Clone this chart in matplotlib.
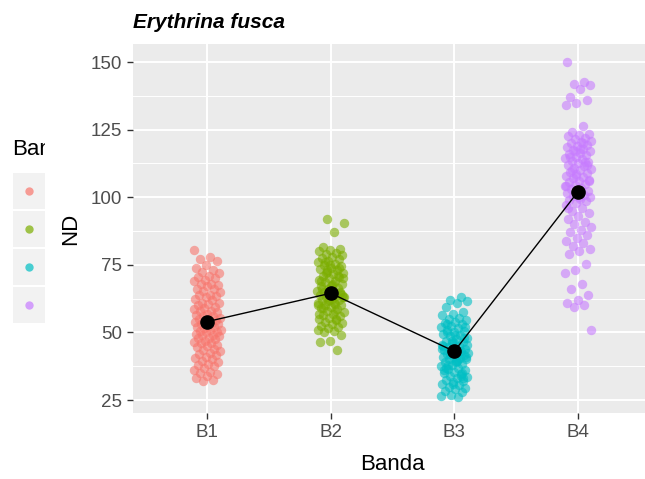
import numpy as np
import matplotlib
matplotlib.use("Agg")
import matplotlib.pyplot as plt
from matplotlib.patches import Rectangle
from matplotlib.transforms import Bbox

plt.rcParams['font.family'] = ['Liberation Sans', 'DejaVu Sans']

bandas = ["B1", "B2", "B3", "B4"]
colores = ["#F8766D", "#7CAE00", "#00BFC4", "#C77CFF"]

nd_b1 = [80.5, 78, 77, 76.5, 75, 74, 73, 72.5, 72, 71, 70.5, 70, 69.5, 69, 68, 68,
         67.5, 67, 66, 66, 65.5, 65, 64, 64, 63.5, 63, 62.5, 62, 61, 61, 60.5, 60,
         59.5, 59, 58.5, 58, 58, 57.5, 57, 56.5, 56, 56, 55.5, 55, 55, 54.5, 54, 54,
         53.5, 53, 53, 52.5, 52, 52, 51.5, 51, 51, 50.5, 50, 50, 49.5, 49, 49, 48.5,
         48, 48, 47.5, 47, 46.5, 46, 46, 45.5, 45, 44.5, 44, 43.5, 43, 42.5, 42, 41.5,
         41, 40.5, 40, 39.5, 39, 38.5, 38, 37.5, 37, 36, 35.5, 35, 34.5, 34, 33, 32.5, 32]
nd_b2 = [92, 90.5, 87, 81.5, 81, 80.5, 80, 79.5, 79, 78.5, 78, 77.5, 77, 76.5, 76, 75.5,
         75, 74.5, 74, 73.5, 73, 72.5, 72, 71.5, 71, 70.5, 70, 69.5, 69, 68.5, 68, 67.5,
         67, 66.5, 66, 65.5, 65, 65, 64.5, 64, 64, 63.5, 63, 63, 62.5, 62, 62, 61.5, 61,
         60.5, 60, 60, 59.5, 59, 58.5, 58, 57.5, 57, 56.5, 56, 55.5, 55, 54.5, 54, 53.5,
         53, 52.5, 52, 51.5, 51, 50.5, 50, 49, 47, 46.5, 43.5, 72, 70, 68, 66, 74, 62,
         60, 58, 76, 64, 67, 69, 71, 73, 63, 61, 59, 65, 75, 57, 55]
nd_b3 = [63, 62, 61.5, 61, 59.5, 57.5, 57, 56.5, 55.5, 55, 54.5, 54, 53.5, 53, 52.5, 52,
         51.5, 51, 50.5, 50, 49.5, 49, 48.5, 48, 47.5, 47, 46.5, 46, 45.5, 45, 44.5, 44,
         44, 43.5, 43, 43, 42.5, 42, 42, 41.5, 41, 41, 40.5, 40, 40, 39.5, 39, 38.5, 38,
         37.5, 37, 36.5, 36, 35.5, 35, 34.5, 34, 33.5, 33, 32.5, 32, 31.5, 31, 30.5, 30,
         29.5, 29, 28.5, 28, 27, 26.5, 26, 50, 48, 46, 45, 43, 42, 41, 39, 37, 35, 47, 44,
         40, 38, 52, 49, 36, 34, 42.5, 45.5, 39.5, 53, 33, 31]
nd_b4 = [150, 142.5, 142, 141.5, 140, 137, 136, 135, 134, 126.5, 124, 123.5, 123, 122.5,
         122, 121.5, 121, 120.5, 120, 119.5, 119, 118.5, 118, 117.5, 117, 116.5, 116,
         115.5, 115, 114.5, 114, 113.5, 113, 112.5, 112, 111.5, 111, 110.5, 110, 109.5,
         109, 108.5, 108, 107.5, 107, 106.5, 106, 105.5, 105, 104.5, 104, 103.5, 103,
         102.5, 102, 101.5, 101, 100.5, 100, 99.5, 99, 98.5, 98, 97, 96, 95, 94, 93, 92,
         91, 90, 89, 88, 87, 86, 85, 84, 83, 82, 81, 80, 79, 75.5, 73, 72, 68, 66, 64, 62,
         61, 60, 59.5, 51, 118, 115, 112, 108, 104, 120, 110, 106, 100, 96, 113, 117]
valores = [nd_b1, nd_b2, nd_b3, nd_b4]
medias = [54, 64.5, 43, 102]

fig = plt.figure(figsize=(6.45, 4.79), dpi=100)
W, H = 645, 479
ax = fig.add_axes([133 / W, 1 - 413 / H, (652 - 133) / W, (413 - 44) / H])
ax.set_facecolor("#EBEBEB")

# puntos con jitter (desplazamiento fijo, no aleatorio)
for i, (vals, col) in enumerate(zip(valores, colores)):
    n = len(vals)
    desp = ((np.arange(n) * 0.618034 + 0.37 * i) % 1 * 2 - 1) * 0.11
    ax.scatter(i + 1 + desp, vals, s=46, color=col, alpha=0.6, linewidths=0, zorder=3)

# medias
xs = np.arange(1, len(bandas) + 1)
ax.plot(xs, medias, color="black", lw=1, zorder=4)
ax.plot(xs, medias, "o", color="black", ms=9.5, zorder=5)

ax.set_xlim(0.4, 4.6)
ax.set_ylim(20.2, 156.7)
ax.set_xticks(xs)
ax.set_xticklabels(bandas)
ax.set_yticks([25, 50, 75, 100, 125, 150])
ax.set_yticks(np.arange(37.5, 150, 25), minor=True)

ax.grid(True, which="major", color="white", lw=1.4, zorder=0)
ax.grid(True, which="minor", axis="y", color="white", lw=0.7, zorder=0)
ax.set_axisbelow(True)
for s in ax.spines.values():
    s.set_visible(False)
ax.tick_params(which="major", length=4, width=1, color="#333333",
               labelsize=13.5, labelcolor="#4D4D4D", pad=4)
ax.tick_params(which="minor", length=0)

ax.set_xlabel("Banda", fontsize=16, labelpad=9)
ax.set_ylabel("ND", fontsize=16, labelpad=7)
ax.set_title("Erythrina fusca", loc="left", fontsize=15, fontweight="bold",
             fontstyle="italic", pad=11.5)

# leyenda recortada
for j, col in enumerate(colores):
    y0 = 173 + j * 38
    fig.add_artist(Rectangle((13 / W, 1 - (y0 + 36) / H), 32 / W, 36 / H,
                             transform=fig.transFigure, color="#F2F2F2", lw=0))
    fig.add_artist(plt.Line2D([29 / W], [1 - (y0 + 18) / H], marker="o", ms=6,
                              color=col, mew=0, alpha=0.7, transform=fig.transFigure))
t = fig.text(12 / W, 1 - 150 / H, "Banda", fontsize=16, va="center", ha="left")
t.set_clip_box(Bbox.from_extents(0, 0, 45, H))
t.set_clip_on(True)

fig.savefig("out.png", dpi=100)
